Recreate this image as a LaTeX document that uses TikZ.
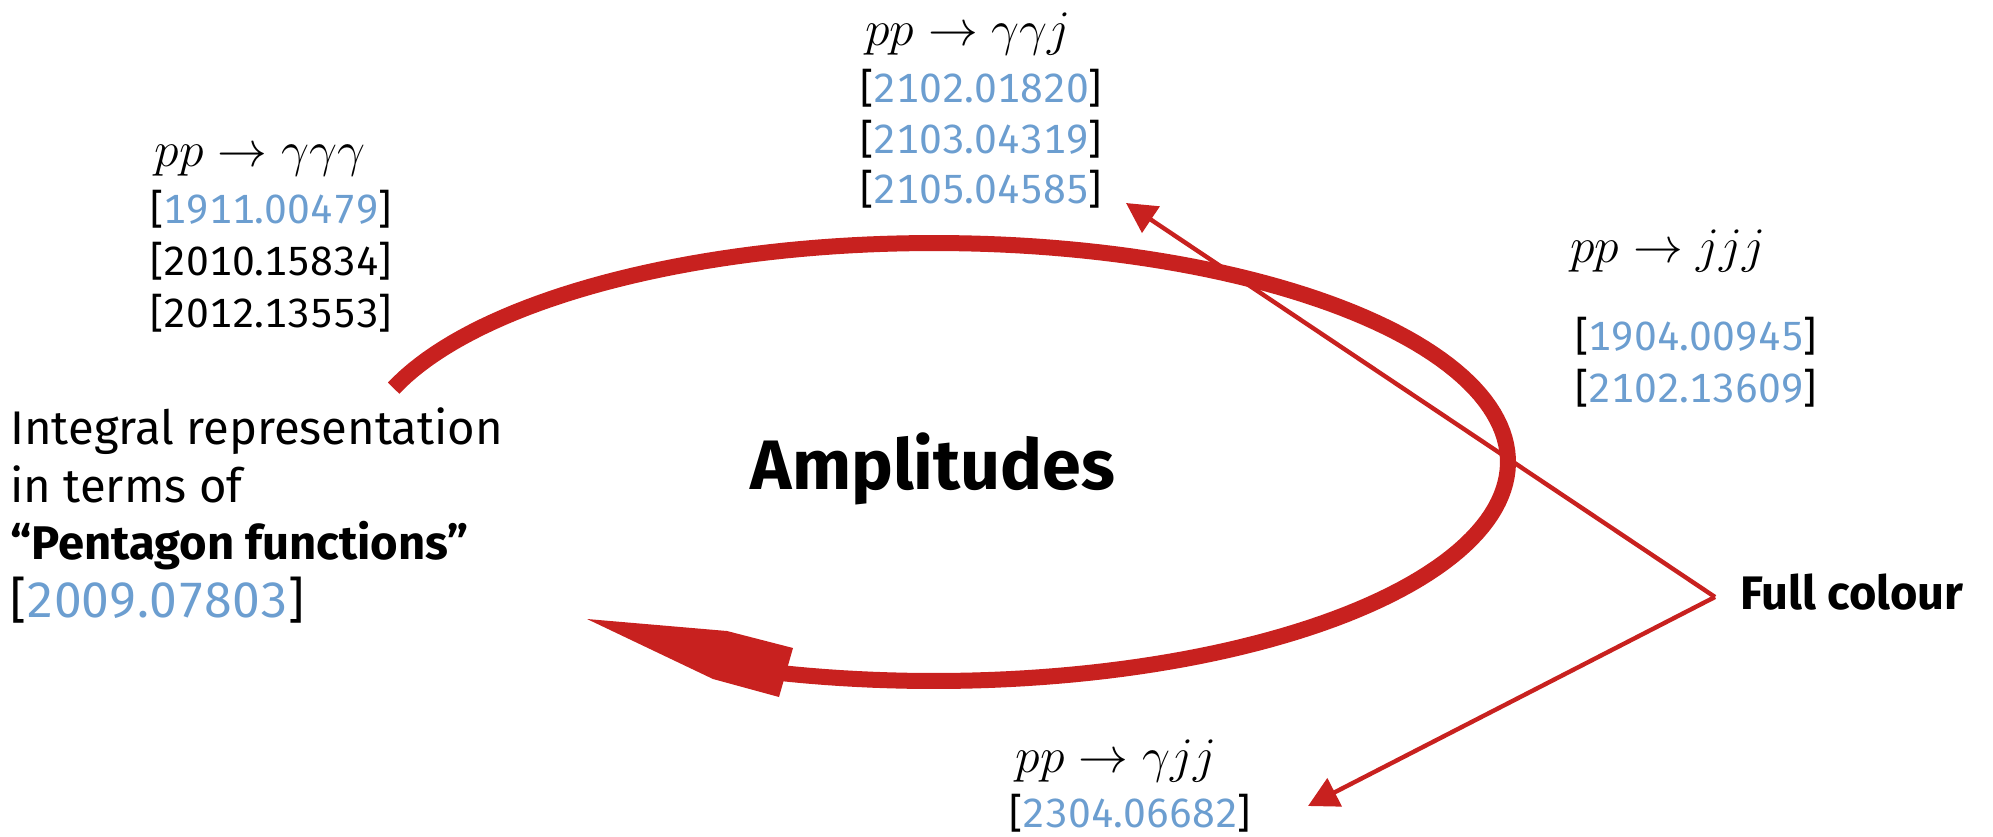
\documentclass[tikz,border=0pt]{standalone}
\usepackage[no-math]{fontspec}
\setmainfont{Fira Sans}[Numbers={Monospaced,Lining}]
\usetikzlibrary{arrows.meta}
\definecolor{accentred}{RGB}{200,33,31}
\definecolor{linkblue}{RGB}{108,158,208}
\newcommand{\lref}[1]{[\textcolor{linkblue}{#1}]}
\tikzset{
  reftext/.style={inner sep=0pt, anchor=base west, font=\fontsize{20.4}{24}\selectfont},
  lefttext/.style={inner sep=0pt, anchor=base west, font=\fontsize{23.6}{28}\selectfont},
  mathtext/.style={inner sep=0pt, anchor=base, font=\fontsize{24.88}{30}\selectfont},
  cycleline/.style={draw=accentred, line width=8pt, line join=round},
  headfill/.style={fill=accentred},
  pointer/.style={draw=accentred, line width=2.2pt, -{Triangle[length=15pt,width=15.5pt]}},
}
\begin{document}
\begin{tikzpicture}[x=0.5pt,y=-0.5pt]
\useasboundingbox (0,0) rectangle (1993,836);
% cycle arrow
\draw[cycleline] plot[domain=199.7:466, samples=160] ({934+574*cos(\x)},{462+219*sin(\x)});
\fill[headfill] (587,619) -- (727,631) -- (793,648) -- (779,697) -- (713,679) -- cycle;
% centre
\node[inner sep=0pt, anchor=base, font=\fontsize{35}{42}\selectfont\bfseries] (amp) at (933,489) {Amplitudes};
% top-left block
\node[mathtext] (fggg) at (260,166) {$pp\to\gamma\gamma\gamma$};
\node[reftext] (ra) at (150,223) {\lref{1911.00479}};
\node[reftext] (rb) at (150,275) {[2010.15834]};
\node[reftext] (rc) at (150,327) {[2012.13553]};
% left block
\node[lefttext] (la) at (10,444) {Integral representation};
\node[lefttext] (lb) at (10,502) {in terms of};
\node[lefttext] (lc) at (10,559) {\bfseries “Pentagon functions”};
\node[lefttext, font=\fontsize{24.8}{28}\selectfont] (ld) at (10,617) {\lref{2009.07803}};
% top-middle block
\node[mathtext] (fggj) at (968,45) {$pp\to\gamma\gamma j$};
\node[reftext] (ma) at (860,102) {\lref{2102.01820}};
\node[reftext] (mb) at (860,153) {\lref{2103.04319}};
\node[reftext] (mc) at (860,203) {\lref{2105.04585}};
% right block
\node[mathtext, anchor=base west] (fjjj) at (1570,262) {$pp\to jjj$};
\node[reftext] (ja) at (1575,350) {\lref{1904.00945}};
\node[reftext] (jb) at (1575,402) {\lref{2102.13609}};
% bottom block
\node[mathtext] (fgjj) at (1116,772) {$pp\to\gamma jj$};
\node[reftext] (ga) at (1009,827) {\lref{2304.06682}};
% full colour
\node[inner sep=0pt, anchor=base west, font=\fontsize{23.5}{28}\selectfont\bfseries] (fc) at (1740,609) {Full colour};
\coordinate (jn) at (1715,597);
\coordinate (tipup) at (1126,203);
\coordinate (tipdown) at (1308,806);
\draw[pointer] (jn) -- (tipup);
\draw[pointer] (jn) -- (tipdown);
\end{tikzpicture}
\end{document}
